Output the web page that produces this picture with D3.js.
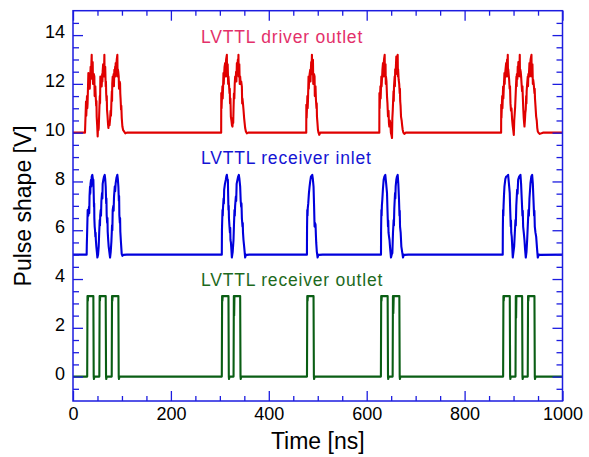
<!DOCTYPE html>
<html>
<head>
<meta charset="utf-8">
<script src="https://cdn.jsdelivr.net/npm/d3@7"></script>
<style>
  html, body { margin: 0; padding: 0; background: #fff; }
  svg { display: block; }
  .tick text { font-family: "Liberation Sans", Arial, sans-serif; font-size: 18px; fill: #000; }
</style>
</head>
<body>
<svg id="chart" width="589" height="457"></svg>
<script>
// Axis tick values
const xMajorTicks = [0, 200, 400, 600, 800, 1000];
const xMinorTicks = [50, 100, 150, 250, 300, 350, 450, 500, 550, 650, 700, 750, 850, 900, 950];
const yMajorTicks = [0, 2, 4, 6, 8, 10, 12, 14];
const yMinorTicks = [-0.5, 0.5, 1, 1.5, 2.5, 3, 3.5, 4.5, 5, 5.5, 6.5, 7, 7.5, 8.5, 9, 9.5,
                     10.5, 11, 11.5, 12.5, 13, 13.5, 14.5];

// Trace labels
const seriesNames = ["LVTTL driver outlet", "LVTTL receiver inlet", "LVTTL receiver outlet"];

// Driver outlet waveform, offset +10 V: [time ns, volts]
const driverOutlet = [
  [0,10],[24.5,10],[26.6,11.28],[27.1,10.7],[27.5,10.9],[28.6,11.5],[29.2,11.0],[29.8,11.2],[31.4,12.44],[31.9,11.9],[32.6,12.0],[33.5,12.3],[34.2,11.8],[34.8,12.1],
  [36.0,12.7],[36.5,12.2],[37.0,12.5],[38.2,13.19],[38.7,12.3],[39.2,12.6],[40.2,12.9],[40.9,12.0],[41.6,12.17],[42.6,12.4],[43.6,12.3],[44.2,11.5],[44.8,11.7],[45.6,11.9],
  [46.4,11.48],[47.4,11.1],[47.9,11.3],[48.4,10.66],[49.4,10.3],[50.4,9.84],[51.5,10.4],[52.0,10.1],[52.6,10.2],[53.8,10.94],[54.8,11.5],[55.3,11.2],[55.9,12.3],
  [56.8,12.0],[57.6,12.2],[58.6,11.89],[59.6,12.4],[60.1,12.1],[60.6,12.51],[61.6,12.8],[62.4,12.6],[63.2,12.3],[64.1,13.19],[64.6,12.3],[65.0,12.5],[65.8,12.7],
  [66.8,11.89],[67.3,12.1],[67.8,11.6],[68.6,11.3],[69.0,11.5],[69.5,10.94],[70.5,10.7],[71.4,10.4],[72.3,10.19],[73.4,10.4],[74.6,10.3],[75.7,10.53],
  [76.8,10.9],[77.6,10.7],[78.4,11.21],[79.4,11.7],[79.8,11.3],[80.2,12.0],[81.1,12.3],[82.0,12.1],[83.0,12.4],[83.6,11.9],[84.5,12.58],[85.4,12.5],
  [86.2,12.71],[86.7,12.3],[87.2,12.85],[88.2,12.7],[89.4,13.0],[90.6,13.19],[91.1,12.3],[91.6,12.6],[92.4,12.5],[93.4,12.30],[94.0,11.8],[94.4,12.0],[95.2,12.1],
  [96.1,12.03],[96.6,11.6],[97.2,11.4],[98.2,10.94],[98.7,11.1],[99.6,10.6],[100.9,10.25],[102.5,10.1],[104.3,10.05],[107,9.97],[110,10],
  [302.7,10],[302.9,11.62],[303.5,11.0],[304.0,11.3],[305.2,11.9],[305.8,11.4],[306.3,11.7],[307.4,12.44],[308.0,12.0],[308.5,12.3],[309.6,12.7],[310.8,12.85],[311.3,12.3],[311.8,12.6],
  [312.8,13.0],[314.3,13.19],[314.8,12.3],[315.2,12.6],[316.0,12.8],[317.0,12.0],[317.6,12.30],[318.6,12.0],[319.7,11.62],[320.3,11.8],[320.8,11.2],[321.6,11.4],[322.5,10.66],
  [323.6,10.5],[324.8,10.3],[325.8,10.25],[326.8,10.6],[327.3,10.4],[327.9,10.94],[328.8,11.6],[329.6,11.4],[330.4,12.0],[331.3,12.30],[332.2,12.1],
  [333.2,12.5],[333.8,12.1],[334.8,12.85],[335.8,12.7],[336.8,13.0],[337.3,12.6],[338.0,13.19],[338.5,12.3],[339.0,12.6],[339.8,12.8],[340.6,12.0],[341.5,12.30],[342.6,12.0],[343.6,12.1],
  [345.0,11.89],[345.6,11.2],[346.2,11.4],[347.2,11.2],[348.3,10.94],[349.6,10.6],[350.6,10.4],[351.7,10.19],[353.2,10.05],[355.2,9.97],[358,10],
  [476.5,10],[476.7,11.14],[477.3,10.6],[477.8,10.9],[478.8,11.5],[479.4,11.0],[480.0,11.3],[481.2,12.30],[481.7,11.8],[482.2,12.1],[483.4,12.4],[484.7,12.58],[485.2,12.1],[485.6,12.4],
  [486.6,12.9],[487.3,12.5],[488.1,13.19],[488.6,12.4],[489.2,12.8],[490.2,12.99],[490.8,12.0],[491.4,12.17],[492.4,12.4],[493.5,12.30],[494.0,11.5],[494.6,11.8],[495.4,11.9],[496.3,11.35],
  [497.4,11.0],[497.9,11.2],[498.4,10.66],[499.4,10.4],[500.4,10.12],[501.6,10.0],[503.1,9.91],[505.1,10],
  [625.8,10],[626.0,11.62],[626.5,11.0],[627.0,11.3],[628.0,11.9],[628.5,11.4],[629.0,11.7],[629.9,12.30],[630.4,11.9],[631.0,12.1],[632.2,12.6],[633.3,12.85],[633.9,12.3],[634.4,12.7],
  [635.4,13.0],[636.7,13.19],[637.2,12.3],[637.6,12.6],[638.5,12.8],[639.0,12.0],[639.4,12.30],[640.4,12.1],[641.5,11.48],[642.4,11.2],[643.5,10.66],[644.6,10.9],
  [645.4,10.4],[646.2,10.25],[647.2,10.5],[648.3,10.39],[649.4,10.0],[650.6,9.9],[651.7,9.78],[652.4,10.6],[653.2,10.9],[653.8,11.21],
  [654.8,11.7],[655.3,11.3],[655.8,11.9],[657.1,12.30],[657.6,11.9],[658.2,12.6],[659.2,12.5],[660.5,13.12],[661.6,12.9],[662.3,12.4],[663.3,13.19],[663.8,12.3],[664.2,12.6],[665.3,12.17],
  [666.4,12.0],[667.4,11.62],[667.9,11.8],[668.4,11.3],[669.2,11.1],[670.1,10.66],[671.4,10.5],[672.4,10.3],[673.5,10.12],[675.0,10.0],[676.9,9.95],[680,10],
  [874.6,10],[874.8,11.14],[875.3,10.6],[875.8,10.9],[876.8,11.5],[877.3,11.0],[877.8,11.3],[878.7,11.89],[879.2,11.4],[879.8,11.7],[881.4,12.44],[881.9,12.0],[882.4,12.3],[883.6,12.6],
  [884.9,12.85],[885.4,12.3],[885.8,12.7],[886.8,13.0],[887.4,12.5],[888.2,13.19],[888.7,12.3],[889.2,12.6],[890.0,12.4],[891.0,12.17],[892.0,11.8],[892.8,11.9],[893.7,11.21],
  [894.8,10.9],[895.8,11.0],[897.1,10.53],[898.2,10.3],[899.4,10.1],[900.5,9.91],[901.4,10.5],[902.4,10.8],[903.3,11.07],[904.4,11.6],
  [905.0,11.9],[905.9,12.30],[906.4,11.9],[906.8,12.4],[907.8,12.2],[908.6,12.71],[909.2,12.3],[909.8,12.9],[911.0,12.8],[911.8,12.4],[912.7,13.19],[913.2,12.3],[913.6,12.6],[914.6,12.5],
  [915.5,12.30],[916.4,12.0],[917.4,11.7],[918.2,11.9],[918.9,11.48],[919.8,11.0],[920.8,10.6],[921.6,10.4],[922.3,10.25],[923.2,10.5],[924.0,10.8],
  [924.9,10.94],[925.8,11.5],[926.3,11.2],[926.8,11.7],[927.8,12.0],[929.0,12.30],[929.6,11.9],[930.2,12.4],[931.2,12.3],[932.5,12.85],[933.1,12.3],[933.6,12.7],[934.8,13.0],
  [936.6,13.19],[937.1,12.3],[937.6,12.6],[938.6,12.8],[939.4,12.0],[940.1,12.17],[941.2,12.0],[942.7,11.62],[943.2,11.8],[943.8,11.4],[944.8,11.1],[946.2,10.66],[947.4,10.5],
  [948.4,10.2],[949.5,10.05],[951.0,10.0],[953.6,9.95],[960,10],[1000,10]
];

// Receiver inlet waveform, offset +5 V
const receiverInlet = [
  [0,5],[27.9,5],[28.2,5.4],[29.0,6.0],[30.0,6.83],[31.2,6.6],[32.7,6.96],[33.2,6.7],[33.8,7.4],[34.8,7.79],[35.3,7.5],[35.8,7.9],
  [36.8,8.07],[37.4,7.8],[38.2,8.2],[39.5,8.27],[40.6,8.1],[41.6,8.07],[42.3,7.5],[42.9,6.96],[43.3,7.1],[43.6,6.5],[44.3,6.15],[45.0,6.0],
  [45.7,5.74],[46.2,5.9],[46.7,5.6],[47.7,5.33],[48.8,5.1],[49.8,4.88],[51.2,5.0],[52.5,5.33],[53.5,5.9],[54.6,6.42],[55.1,6.2],[55.6,6.6],
  [56.6,6.83],[57.2,6.6],[58.0,7.2],[59.3,7.52],[60.0,7.3],[60.6,7.9],[62.0,8.07],[63.4,8.2],[64.8,8.27],[65.8,8.1],[66.8,7.79],[67.8,7.1],
  [68.3,7.3],[68.8,6.62],[69.8,6.3],[70.4,6.5],[70.9,5.94],[71.9,5.6],[72.9,5.33],[74.3,5.1],[75.7,4.88],[77.0,5.1],[78.4,5.53],[79.8,6.2],
  [80.4,6.0],[81.1,6.83],[82.4,7.0],[83.0,6.8],[83.8,7.38],[85.4,7.8],[86.2,7.6],[87.2,7.93],[88.8,8.15],[90.6,8.27],[91.6,8.1],[92.7,7.79],[93.7,7.2],
  [94.2,7.4],[94.7,6.62],[95.7,6.3],[96.2,6.5],[96.7,5.94],[98.0,5.5],[99.5,5.03],[101,4.95],[102.9,4.99],[110,5],
  [304.0,5],[304.3,6.0],[305.4,6.83],[305.9,6.6],[306.4,6.9],[307.6,7.3],[308.2,7.1],[308.8,7.66],[310.4,7.9],[312.2,8.07],[313.2,8.2],[314.3,8.27],
  [315.4,8.1],[316.4,8.07],[317.0,7.4],[317.6,6.83],[318.1,7.0],[318.6,6.5],[319.7,6.15],[320.6,5.9],[321.2,6.1],[321.7,5.6],[322.6,5.5],[323.6,5.2],
  [324.5,4.88],[326.2,5.1],[327.9,5.6],[328.8,6.2],[329.9,6.83],[330.5,6.6],[331.2,7.0],[332.7,7.38],[333.4,7.2],[334.3,7.9],[336.0,8.07],[337.4,8.2],
  [338.8,8.27],[340.0,8.1],[341.5,7.79],[342.6,7.2],[343.6,6.96],[344.2,7.1],[345.0,6.5],[346.3,6.15],[346.8,6.3],[347.3,5.9],[348.3,5.6],[349.8,5.3],
  [351.7,4.88],[353.4,5.0],[355.2,4.99],[360,5],
  [477.9,5],[478.1,6.0],[478.6,6.83],[479.1,6.6],[479.6,6.9],[480.6,7.1],[481.9,7.5],[483.3,7.79],[484.6,8.0],[486.1,8.2],[488.8,8.27],
  [490.0,8.1],[491.4,7.79],[492.5,7.0],[493.5,6.15],[494.5,6.3],[495.5,6.22],[496.2,5.8],[496.9,5.48],[498.2,5.1],[499.7,4.88],
  [501.4,5.0],[503.1,4.99],[510,5],
  [629.2,5],[629.4,6.0],[630.0,6.83],[630.5,6.6],[631.0,7.0],[631.9,7.25],[633.2,7.7],[634.6,8.07],[636.2,8.2],[638.0,8.27],[639.8,7.9],
  [641.5,7.52],[642.5,6.8],[643.5,6.15],[644.0,6.4],[644.6,5.9],[645.6,5.74],[646.6,5.6],[647.6,5.33],[648.6,5.1],[649.6,4.88],[651.0,5.0],
  [652.4,5.06],[653.7,5.9],[655.0,6.42],[655.6,6.2],[656.4,6.9],[657.9,7.52],[658.5,7.3],[659.2,7.8],[660.5,8.07],[661.8,8.2],[663.3,8.27],[664.6,7.9],
  [666.0,7.25],[667.0,6.6],[667.5,6.8],[668.1,6.15],[669.4,5.9],[670.8,5.33],[672.5,5.1],[674.2,4.88],[675.8,5.0],[677.5,4.99],[685,5],
  [877.9,5],[878.1,6.0],[878.6,6.83],[879.1,6.6],[879.6,7.0],[880.4,7.4],[881.4,7.79],[883.2,8.1],[884.9,8.2],[886.8,8.22],[888.9,8.27],
  [890.6,7.9],[892.2,7.52],[893.2,6.8],[894.3,6.15],[894.8,6.4],[895.3,5.9],[896.3,5.74],[897.4,5.3],[898.4,4.88],[899.8,5.1],[901.2,5.33],
  [902.6,5.9],[903.9,6.42],[904.6,6.2],[905.6,7.0],[907.3,7.66],[908.2,7.5],[909.4,8.07],[911.4,8.2],[914.1,8.27],[915.4,7.9],[916.8,7.25],[918.2,6.6],
  [918.8,6.8],[919.6,6.15],[920.9,5.9],[922.3,5.6],[923.6,5.2],[925.0,4.88],[926.4,5.1],[927.8,5.6],[929.1,6.2],[930.5,6.83],[931.3,6.6],[932.5,7.3],
  [934.6,7.93],[936.3,8.2],[938.0,8.27],[939.4,7.9],[940.7,7.25],[942.0,6.6],[942.6,6.8],[943.4,6.15],[944.8,5.9],[946.2,5.74],[947.8,5.3],
  [949.5,4.88],[951.5,5.0],[953.6,4.99],[1000,5]
];

// Receiver outlet waveform, no offset
const receiverOutlet = [
  [0,0],
  [29.0,0],[29.6,3.3],[30.3,3.1],[30.8,3.3],[41.6,3.3],[42.3,0],[42.8,-0.1],[43.6,0],
  [53.8,0],[54.4,3.3],[55.0,3.1],[55.6,3.3],[66.8,3.3],[67.5,0],[68.0,-0.1],[68.8,0],
  [79.1,0],[79.7,3.3],[80.3,3.1],[80.9,3.3],[92.7,3.3],[93.4,0],[93.9,-0.1],[94.8,0],
  [304.0,0],[304.6,3.3],[305.2,3.1],[305.8,3.3],[317.6,3.3],[318.3,0],[318.8,-0.1],[319.6,0],
  [328.0,0],[328.6,3.3],[329.2,2.5],[329.8,3.3],[341.5,3.3],[342.2,0],[342.7,-0.1],[343.5,0],
  [478.0,0],[478.6,3.3],[479.2,3.1],[479.8,3.3],[491.4,3.3],[492.1,0],[492.6,-0.1],[493.4,0],
  [629.0,0],[629.6,3.3],[630.2,3.1],[630.8,3.3],[642.8,3.3],[643.5,0],[644.0,-0.1],[644.8,0],
  [653.0,0],[653.6,3.3],[654.4,2.6],[655.2,3.3],[666.7,3.3],[667.4,0],[667.9,-0.1],[668.7,0],
  [878.7,0],[879.3,3.3],[879.9,3.1],[880.5,3.3],[892.3,3.3],[893.0,0],[893.5,-0.1],[894.3,0],
  [904.0,0],[904.6,3.3],[905.2,2.4],[905.8,3.3],[917.5,3.3],[918.2,0],[918.7,-0.1],[919.5,0],
  [929.0,0],[929.6,3.3],[930.2,3.1],[930.8,3.3],[942.7,3.3],[943.4,0],[943.9,-0.1],[944.7,0],
  [1000,0]
];

const svg = d3.select("#chart");
const frame = { left: 73, right: 562.5, top: 10.7, bottom: 401 };
const axisColor = "#1c1ce0";

const x = d3.scaleLinear().domain([0, 1000]).range([frame.left, frame.right]);
const y = d3.scaleLinear().domain([-1, 15]).range([frame.bottom, frame.top]);

svg.append("defs").append("clipPath").attr("id", "plot-clip")
  .append("rect")
  .attr("x", frame.left).attr("y", frame.top)
  .attr("width", frame.right - frame.left).attr("height", frame.bottom - frame.top);

// Traces
const line = d3.line().x(d => x(d[0])).y(d => y(d[1]));
const traces = [
  { data: driverOutlet, color: "#e00000" },
  { data: receiverInlet, color: "#0000dc" },
  { data: receiverOutlet, color: "#0a5e14" }
];
const plot = svg.append("g").attr("clip-path", "url(#plot-clip)");
traces.forEach(t => {
  plot.append("path")
    .datum(t.data)
    .attr("d", line)
    .attr("fill", "none")
    .attr("stroke", t.color)
    .attr("stroke-width", 2.1)
    .attr("stroke-linejoin", "round");
});

// Inward ticks on all four sides
function styleAxis(g) {
  g.select(".domain").remove();
  g.selectAll(".tick line").attr("stroke", axisColor).attr("stroke-width", 1.3);
}
svg.append("g").attr("transform", `translate(0,${frame.bottom})`)
  .call(d3.axisBottom(x).tickValues(xMajorTicks).tickSize(-10).tickPadding(6).tickFormat(d3.format("d")))
  .call(styleAxis);
svg.append("g").attr("transform", `translate(0,${frame.bottom})`)
  .call(d3.axisBottom(x).tickValues(xMinorTicks).tickSize(-5).tickFormat(""))
  .call(styleAxis);
svg.append("g").attr("transform", `translate(0,${frame.top})`)
  .call(d3.axisTop(x).tickValues(xMajorTicks).tickSize(-10).tickFormat(""))
  .call(styleAxis);
svg.append("g").attr("transform", `translate(0,${frame.top})`)
  .call(d3.axisTop(x).tickValues(xMinorTicks).tickSize(-5).tickFormat(""))
  .call(styleAxis);

const yLeft = svg.append("g").attr("transform", `translate(${frame.left},0)`)
  .call(d3.axisLeft(y).tickValues(yMajorTicks).tickSize(-10).tickPadding(8).tickFormat(d3.format("d")))
  .call(styleAxis);
yLeft.selectAll(".tick text").attr("dy", "0.15em");
svg.append("g").attr("transform", `translate(${frame.left},0)`)
  .call(d3.axisLeft(y).tickValues(yMinorTicks).tickSize(-6).tickFormat(""))
  .call(styleAxis);
svg.append("g").attr("transform", `translate(${frame.right},0)`)
  .call(d3.axisRight(y).tickValues(yMajorTicks).tickSize(-10).tickFormat(""))
  .call(styleAxis);
svg.append("g").attr("transform", `translate(${frame.right},0)`)
  .call(d3.axisRight(y).tickValues(yMinorTicks).tickSize(-6).tickFormat(""))
  .call(styleAxis);

// Frame
svg.append("rect")
  .attr("x", frame.left).attr("y", frame.top)
  .attr("width", frame.right - frame.left).attr("height", frame.bottom - frame.top)
  .attr("fill", "none").attr("stroke", axisColor).attr("stroke-width", 1.5);

// Axis titles
svg.append("text")
  .attr("x", (frame.left + frame.right) / 2).attr("y", 449)
  .attr("text-anchor", "middle")
  .style("font-family", "'Liberation Sans', Arial, sans-serif").style("font-size", "23px")
  .text("Time [ns]");
svg.append("text")
  .attr("transform", `translate(31,${(frame.top + frame.bottom) / 2}) rotate(-90)`)
  .attr("text-anchor", "middle")
  .style("font-family", "'Liberation Sans', Arial, sans-serif").style("font-size", "23px")
  .text("Pulse shape [V]");

// Trace annotations
const labelColors = ["#e3306a", "#1414d4", "#1d6a1d"];
const labelY = [43, 164, 286];
seriesNames.forEach((name, i) => {
  svg.append("text")
    .attr("x", 201).attr("y", labelY[i])
    .style("font-family", "'Liberation Sans', Arial, sans-serif").style("font-size", "17.5px")
    .style("letter-spacing", "0.8px")
    .attr("fill", labelColors[i])
    .text(name);
});
</script>
</body>
</html>
